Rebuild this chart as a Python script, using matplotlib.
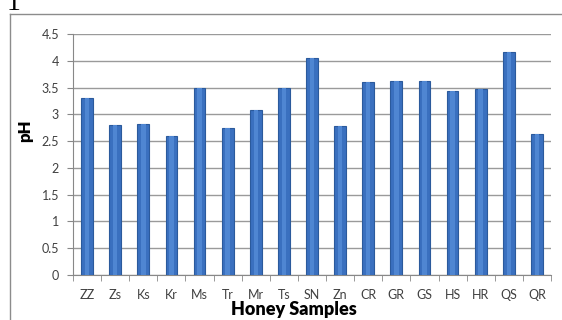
"""
pH of honey samples - bar chart
"""
import matplotlib.pyplot as plt
from matplotlib.lines import Line2D

samples = ["ZZ", "Zs", "Ks", "Kr", "Ms", "Tr", "Mr", "Ts", "SN", "Zn",
           "CR", "GR", "GS", "HS", "HR", "QS", "QR"]
ph_values = [3.31, 2.80, 2.82, 2.59, 3.50, 2.74, 3.08, 3.50, 4.05, 2.79,
             3.61, 3.63, 3.63, 3.43, 3.48, 4.17, 2.64]
y_ticks = [0, 0.5, 1, 1.5, 2, 2.5, 3, 3.5, 4, 4.5]
y_tick_labels = ["0", "0.5", "1", "1.5", "2", "2.5", "3", "3.5", "4", "4.5"]

plt.rcParams['font.family'] = ['Lato', 'DejaVu Sans']

fig = plt.figure(figsize=(5.62, 3.2), dpi=100)
ax = fig.add_axes([73 / 562, 1 - 275 / 320, 478 / 562, 241 / 320])

x = list(range(len(samples)))
ax.bar(x, ph_values, width=0.42, color='#3a70bf', edgecolor='#2b5a9c',
       linewidth=0.8, zorder=3)
# lighter stripe down the middle of each bar, like the original's shading
ax.bar(x, ph_values, width=0.16, color='#4f86d2', linewidth=0, zorder=4)

ax.set_xlim(-0.5, len(samples) - 0.5)
ax.set_ylim(0, 4.5)
ax.set_yticks(y_ticks)
ax.set_yticklabels(y_tick_labels)
ax.set_xticks(x)
ax.set_xticklabels(samples)
ax.set_xticks([i - 0.5 for i in range(len(samples) + 1)], minor=True)

ax.grid(axis='y', color='#9a9a9a', linewidth=1.0, zorder=0)
ax.tick_params(axis='y', length=4, color='#888888', labelsize=9,
               labelcolor='#404040', pad=6)
ax.tick_params(axis='x', which='major', length=0, labelsize=9,
               labelcolor='#404040', pad=10)
ax.tick_params(axis='x', which='minor', length=4, color='#888888')

for side in ['top', 'right']:
    ax.spines[side].set_visible(False)
for side in ['left', 'bottom']:
    ax.spines[side].set_color('#888888')

fig.text(25 / 562, 1 - 131 / 320, "pH", rotation=90, fontsize=12,
         fontweight='heavy', ha='center', va='center', color='black')
fig.text(294 / 562, 1 - 310 / 320, "Honey Samples", fontsize=13,
         fontweight='heavy', ha='center', va='center', color='black')

# outer chart frame (cut off on right and bottom)
fig.add_artist(Line2D([10 / 562, 1], [1 - 14 / 320] * 2,
                      color='#8c8c8c', linewidth=1.0))
fig.add_artist(Line2D([10 / 562] * 2, [1 - 14 / 320, 0],
                      color='#8c8c8c', linewidth=1.0))
fig.text(14 / 562, 1 - 10 / 320, "1", fontsize=20, family='Liberation Serif',
         ha='center', va='baseline', color='black')

fig.savefig("out.png", dpi=100)
